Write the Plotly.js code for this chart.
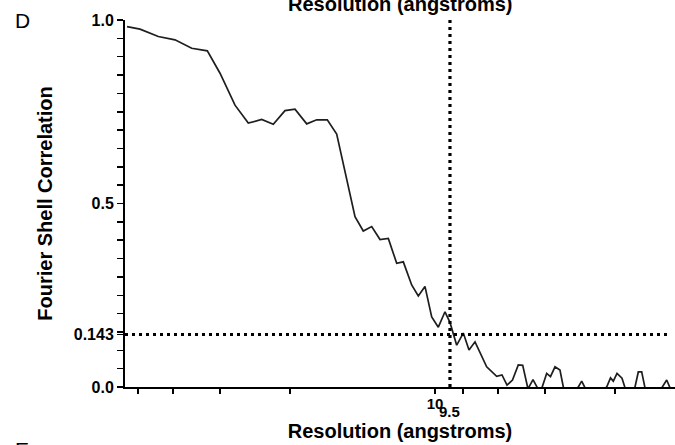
<!DOCTYPE html>
<html>
<head>
<meta charset="utf-8">
<script src="https://cdn.plot.ly/plotly-3.0.1.min.js"></script>
<style>
html, body { margin: 0; padding: 0; background: #ffffff; }
#chart { width: 675px; height: 445px; }
</style>
</head>
<body>
<div id="chart"></div>
<script>
// Spatial frequency (arbitrary shell units along the x axis)
const freq = [0.37, 2.74, 6.09, 9.14, 12.19, 15.05, 17.37, 20.11, 22.54, 24.99,
  27.11, 29.25, 31.08, 33.22, 35.05, 36.98, 38.70, 42.05, 43.56, 45.10,
  46.62, 48.14, 49.67, 50.88, 52.41, 53.62, 54.84, 56.07, 57.28, 58.50,
  59.41, 60.64, 61.85, 62.89, 63.99, 66.12, 67.95, 68.92, 69.84, 70.84,
  71.90, 72.71, 73.67, 74.59, 75.50, 76.23, 77.09, 77.79, 78.61, 79.52,
  80.16, 80.99, 82.08, 82.87, 83.49, 84.10, 85.37, 86.84, 88.06, 88.76,
  89.27, 89.95, 90.86, 91.41, 92.32, 93.24, 93.84, 94.46, 95.06, 96.34,
  97.81, 99.03, 99.63];
// Fourier shell correlation values
const fsc = [0.982, 0.975, 0.955, 0.946, 0.923, 0.916, 0.855, 0.768, 0.719, 0.729,
  0.716, 0.753, 0.757, 0.717, 0.728, 0.728, 0.689, 0.464, 0.425, 0.437,
  0.402, 0.405, 0.337, 0.341, 0.278, 0.248, 0.274, 0.191, 0.163, 0.205,
  0.176, 0.114, 0.147, 0.101, 0.123, 0.055, 0.029, 0.033, 0.005, 0.019,
  0.060, 0.059, -0.005, 0.020, -0.005, -0.002, 0.037, 0.028, 0.055, 0.046,
  -0.002, -0.020, -0.010, 0.000, 0.016, -0.002, -0.020, -0.015, 0.000, 0.025,
  0.016, 0.037, 0.024, -0.002, -0.015, 0.000, 0.041, 0.041, -0.002, -0.020,
  -0.010, 0.019, -0.002];

const threshold = 0.143;          // FSC cut-off
const cutoffFreq = 59.41;          // position of the 9.5 Å resolution
const cutoffLabel = '9.5';
const xTickVals = [2.38, 8.78, 17.37, 30.16, 56.67, 61.79, 68.19, 76.78, 89.58];
const xTickText = ['', '', '', '', '10', '', '', '', ''];
const yTickVals = [0, 0.143, 0.5, 1.0];
const yTickText = ['0.0', '0.143', '0.5', '1.0'];
const panelLabels = ['D', 'E'];
const axisTitleX = 'Resolution (angstroms)';
const axisTitleY = 'Fourier Shell Correlation';

const FONT = 'Liberation Sans, Arial, Helvetica, sans-serif';
const xMax = 100.55;

const trace = {
  x: freq, y: fsc, type: 'scatter', mode: 'lines',
  line: { color: '#1e1e1e', width: 1.7 },
  hoverinfo: 'skip', showlegend: false
};

const layout = {
  width: 675, height: 445,
  margin: { l: 125, r: 0, t: 20, b: 58, pad: 0 },
  paper_bgcolor: '#ffffff', plot_bgcolor: '#ffffff',
  showlegend: false,
  font: { family: FONT, color: '#000000' },
  xaxis: {
    range: [0, xMax], showgrid: false, zeroline: false,
    showline: true, linecolor: '#000000', linewidth: 2,
    ticks: 'outside', ticklen: 5, tickwidth: 1.5, tickcolor: '#000000',
    tickmode: 'array', tickvals: xTickVals, ticktext: xTickText,
    ticklabelstandoff: -3,
    tickfont: { family: FONT, size: 15, weight: 'bold', color: '#000000' },
    automargin: true,
    title: { text: axisTitleX, standoff: 13,
      font: { family: FONT, size: 20, weight: 'bold', color: '#000000' } },
    fixedrange: true
  },
  yaxis: {
    range: [0, 1], showgrid: false, zeroline: false,
    showline: true, linecolor: '#000000', linewidth: 2,
    ticks: 'outside', ticklen: 6, tickwidth: 1.5, tickcolor: '#000000',
    tickmode: 'array', tickvals: yTickVals, ticktext: yTickText,
    tickfont: { family: FONT, size: 16, weight: 'bold', color: '#000000' },
    minor: { tick0: 0, dtick: 0.05, ticks: 'outside', ticklen: 6, tickwidth: 1.5, tickcolor: '#000000', showgrid: false },
    title: { text: axisTitleY, standoff: 16,
      font: { family: FONT, size: 20, weight: 'bold', color: '#000000' } },
    fixedrange: true
  },
  shapes: [
    { type: 'line', xref: 'x', yref: 'y', x0: 0, x1: 99.2, y0: threshold, y1: threshold,
      line: { color: '#000000', width: 3.2, dash: '3px,4px' } },
    { type: 'line', xref: 'x', yref: 'y', x0: cutoffFreq, x1: cutoffFreq, y0: 0, y1: 1.0,
      line: { color: '#000000', width: 3.2, dash: '3px,4px' } }
  ],
  annotations: [
    { text: cutoffLabel, xref: 'x', yref: 'paper', x: cutoffFreq, y: -0.0675,
      xanchor: 'center', yanchor: 'middle', showarrow: false,
      font: { family: FONT, size: 15, weight: 'bold', color: '#000000' } },
    { text: axisTitleX, xref: 'paper', yref: 'paper', x: 0.5, y: 1.0433,
      xanchor: 'center', yanchor: 'middle', showarrow: false,
      font: { family: FONT, size: 20, weight: 'bold', color: '#000000' } },
    { text: panelLabels[0], xref: 'paper', yref: 'paper', x: -0.2036, y: 0.9986,
      xanchor: 'left', yanchor: 'middle', showarrow: false,
      font: { family: FONT, size: 21, color: '#000000' } },
    { text: panelLabels[1], xref: 'paper', yref: 'paper', x: -0.2036, y: -0.170,
      xanchor: 'left', yanchor: 'middle', showarrow: false,
      font: { family: FONT, size: 21, color: '#000000' } }
  ]
};

Plotly.newPlot('chart', [trace], layout, { staticPlot: true, displayModeBar: false });
</script>
</body>
</html>
